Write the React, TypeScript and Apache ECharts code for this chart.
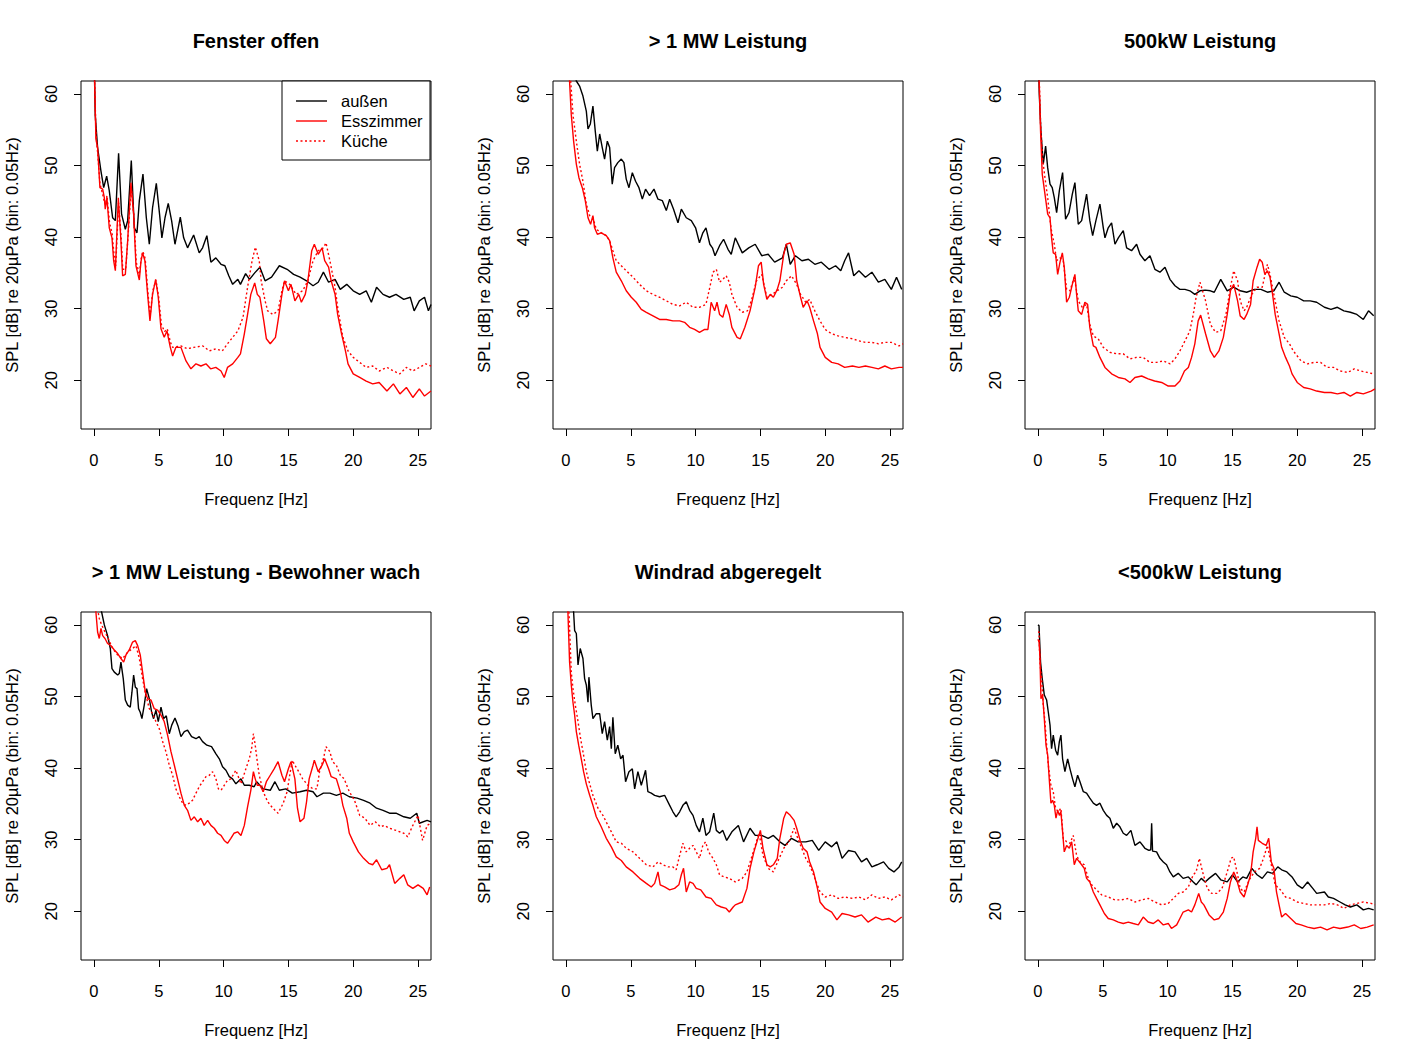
import { useEffect, useRef } from "react";
import * as echarts from "echarts";

const xTicks = [0, 5, 10, 15, 20, 25];
const yTicks = [20, 30, 40, 50, 60];
const panelTitles = [
  "Fenster offen",
  "> 1 MW Leistung",
  "500kW Leistung",
  "> 1 MW Leistung - Bewohner wach",
  "Windrad abgeregelt",
  "<500kW Leistung",
];
const seriesNames = ["außen", "Esszimmer", "Küche"];
const xAxisTitle = "Frequenz [Hz]";
const yAxisTitle = "SPL [dB] re 20µPa (bin: 0.05Hz)";

// Panel 1: Fenster offen
const p1Aussen = [[0,66],[0.1,57],[0.28,52.5],[0.54,49.2],[0.75,46.9],[0.98,48.5],[1.18,46.5],[1.44,42.7],[1.65,42.3],[1.9,51.7],[2.13,43.2],[2.42,41.1],[2.6,42.3],[2.88,50.7],[3.11,41.3],[3.32,40.6],[3.5,45.1],[3.78,48.8],[4.04,42.7],[4.27,39.0],[4.52,44.1],[4.81,47.5],[5.06,43.2],[5.24,39.9],[5.48,42.7],[5.73,44.7],[5.99,42.3],[6.25,39.0],[6.66,42.8],[6.92,39.9],[7.22,38.5],[7.69,40.3],[8.12,37.8],[8.38,38.5],[8.71,40.2],[9.02,36.5],[9.4,37.1],[9.8,36.2],[10.1,36.0],[10.4,34.6],[10.7,33.4],[11.1,34.1],[11.3,33.4],[11.7,34.9],[12.0,34.1],[12.4,35.0],[12.8,35.8],[13.2,33.9],[13.7,34.4],[14.3,36.0],[14.9,35.5],[15.4,34.8],[15.9,34.4],[16.4,33.9],[16.9,33.2],[17.3,33.7],[17.7,35.1],[18.1,33.7],[18.6,34.1],[19.0,32.7],[19.5,33.4],[20.0,32.5],[20.5,32.0],[21.0,32.5],[21.4,30.9],[21.8,33.0],[22.3,32.0],[22.8,31.6],[23.3,32.0],[23.9,31.3],[24.4,31.6],[24.7,29.7],[25.1,31.1],[25.5,31.6],[25.8,29.7],[26.0,30.6]];
const p1Ess = [[0,66],[0.15,53.7],[0.28,52.5],[0.46,46.9],[0.67,46.7],[0.8,45.5],[0.87,43.9],[1.0,45.5],[1.18,41.3],[1.39,39.9],[1.52,36.7],[1.65,35.3],[1.88,45.5],[2.08,39.5],[2.21,34.6],[2.42,34.8],[2.6,39.5],[2.85,47.6],[3.06,43.2],[3.24,36.0],[3.5,34.0],[3.62,36.5],[3.75,37.8],[3.93,36.7],[4.14,32.0],[4.32,28.3],[4.52,32.0],[4.76,34.1],[4.96,31.6],[5.17,27.2],[5.42,26.0],[5.63,26.9],[5.89,24.6],[6.07,23.4],[6.32,24.6],[6.71,24.6],[7.1,22.7],[7.48,21.6],[7.87,22.3],[8.25,22.0],[8.64,22.3],[9.0,21.6],[9.4,21.8],[9.8,21.3],[10.05,20.4],[10.3,21.8],[10.7,22.3],[11.1,23.2],[11.3,23.7],[11.6,26.5],[11.85,29.2],[12.1,32.0],[12.4,33.6],[12.6,32.0],[12.8,31.6],[13.1,28.3],[13.3,25.8],[13.6,25.1],[14.0,26.0],[14.2,28.3],[14.5,32.0],[14.7,33.9],[15.0,32.5],[15.2,33.4],[15.5,31.1],[15.8,32.0],[16.0,30.9],[16.3,32.0],[16.5,33.9],[16.8,38.1],[17.0,39.0],[17.3,37.6],[17.6,38.5],[17.8,36.7],[18.1,35.8],[18.3,33.9],[18.6,32.0],[18.8,29.2],[19.1,26.5],[19.4,24.1],[19.6,22.3],[20.0,20.9],[20.5,20.4],[21.0,19.9],[21.5,19.5],[22.0,19.7],[22.6,18.5],[23.1,19.5],[23.6,18.1],[24.1,19.0],[24.6,17.6],[25.1,18.8],[25.5,17.8],[26.0,18.5]];
const p1Kueche = [[0,66],[0.15,54.5],[0.3,51.5],[0.46,47.5],[0.67,46.0],[0.8,45.0],[0.9,44.5],[1.0,45.8],[1.2,42.0],[1.4,40.5],[1.55,37.5],[1.68,36.0],[1.9,44.8],[2.1,39.8],[2.22,35.5],[2.45,35.5],[2.62,39.8],[2.87,47.0],[3.08,43.0],[3.26,36.5],[3.5,34.8],[3.64,37.0],[3.77,38.0],[3.95,37.0],[4.15,32.5],[4.33,29.0],[4.54,32.5],[4.78,34.0],[4.98,31.8],[5.2,27.8],[5.45,26.8],[5.65,27.2],[5.9,25.3],[6.07,24.6],[6.7,24.8],[7.2,24.4],[7.7,24.6],[8.4,24.8],[8.9,24.1],[9.4,24.4],[9.9,24.1],[10.3,25.1],[10.7,26.0],[11.1,26.9],[11.5,28.8],[11.85,33.0],[12.2,36.7],[12.45,38.6],[12.75,36.7],[12.9,33.9],[13.2,31.1],[13.4,29.7],[13.8,29.2],[14.2,29.7],[14.5,32.5],[14.7,33.9],[15.1,33.4],[15.6,32.0],[16.1,32.5],[16.5,33.9],[16.9,36.7],[17.3,38.1],[17.7,38.5],[17.9,39.2],[18.2,36.7],[18.6,33.0],[18.8,30.2],[19.2,26.0],[19.6,24.1],[20.0,23.2],[20.5,22.5],[21.0,21.8],[21.5,22.0],[22.0,21.3],[22.6,21.8],[23.1,21.3],[23.6,20.9],[24.1,21.8],[24.6,21.3],[25.1,21.8],[25.6,22.3],[26.0,22.0]];

// Panel 2: > 1 MW Leistung
const p2Aussen = [[0,72],[0.5,64],[0.8,61.8],[1.05,61.1],[1.31,59.7],[1.57,57.6],[1.7,55.1],[1.88,55.8],[2.08,58.3],[2.26,54.8],[2.42,52.0],[2.6,54.4],[2.8,52.5],[2.98,50.9],[3.19,53.4],[3.37,52.5],[3.57,47.4],[3.75,49.7],[4.0,50.4],[4.27,50.9],[4.47,50.4],[4.65,48.1],[4.86,46.9],[5.12,49.0],[5.37,47.8],[5.63,46.9],[5.89,45.3],[6.14,46.7],[6.45,45.8],[6.79,46.7],[7.1,45.3],[7.43,45.1],[7.74,43.7],[8.0,45.3],[8.3,43.9],[8.64,42.0],[8.9,43.9],[9.28,42.7],[9.67,42.3],[10.0,41.3],[10.3,39.2],[10.56,40.6],[10.8,41.3],[11.1,39.0],[11.3,38.5],[11.5,37.4],[11.85,38.8],[12.16,39.7],[12.5,38.3],[12.75,37.6],[13.06,39.9],[13.6,37.8],[14.1,38.5],[14.6,39.0],[15.1,37.4],[15.6,37.6],[16.1,36.5],[16.7,37.1],[17.0,39.0],[17.3,36.2],[17.7,37.4],[18.2,36.7],[18.7,36.9],[19.2,36.2],[19.7,36.5],[20.3,35.5],[20.8,36.0],[21.2,35.3],[21.5,36.7],[21.8,37.8],[22.2,34.6],[22.6,35.3],[23.1,34.4],[23.6,35.1],[24.1,33.7],[24.6,34.1],[25.1,32.7],[25.5,34.4],[25.9,32.7]];
const p2Ess = [[0,75],[0.1,68],[0.41,57.1],[0.59,53.4],[0.8,50.2],[1.0,48.3],[1.26,46.9],[1.49,45.1],[1.7,42.7],[1.9,41.8],[2.08,43.0],[2.21,41.3],[2.42,40.4],[2.72,40.6],[3.11,40.2],[3.37,39.5],[3.62,37.1],[3.88,35.1],[4.27,33.9],[4.65,32.5],[5.04,31.6],[5.42,30.9],[5.81,29.9],[6.2,29.5],[6.71,29.0],[7.22,28.5],[7.74,28.5],[8.25,28.3],[8.77,28.3],[9.15,28.1],[9.54,27.4],[9.92,27.1],[10.3,26.7],[10.7,27.1],[10.95,27.1],[11.2,30.9],[11.47,29.7],[11.65,30.9],[11.85,29.2],[12.1,28.8],[12.36,30.6],[12.6,29.2],[12.8,27.4],[13.2,26.0],[13.45,25.8],[13.8,27.4],[14.2,29.7],[14.6,33.0],[14.85,36.0],[15.06,36.5],[15.25,33.4],[15.5,31.3],[15.76,32.0],[16.0,31.6],[16.3,32.7],[16.5,33.9],[16.8,37.6],[17.0,39.0],[17.3,39.2],[17.6,37.6],[17.8,33.9],[18.1,31.6],[18.3,30.2],[18.6,31.1],[18.8,30.2],[19.1,28.3],[19.4,26.5],[19.6,24.6],[20.0,23.2],[20.5,22.5],[21.0,22.3],[21.5,21.8],[22.1,22.0],[22.6,21.8],[23.1,22.0],[23.6,21.8],[24.1,21.6],[24.6,22.0],[25.1,21.6],[25.7,21.8],[26.0,21.8]];
const p2Kueche = [[0,75],[0.1,69],[0.54,57.1],[0.8,53.4],[1.05,50.2],[1.31,47.8],[1.57,44.6],[1.83,43.0],[2.08,42.7],[2.34,41.1],[2.72,40.6],[3.11,40.2],[3.37,39.5],[3.62,38.1],[3.88,36.7],[4.27,36.0],[4.65,35.3],[5.17,34.4],[5.68,33.4],[6.2,32.5],[6.71,32.0],[7.22,31.6],[7.74,31.1],[8.25,30.6],[8.77,30.4],[9.28,30.9],[9.8,30.2],[10.3,30.2],[10.8,30.6],[11.1,33.0],[11.34,35.1],[11.6,35.5],[11.85,33.7],[12.1,34.1],[12.36,34.6],[12.6,33.7],[12.8,32.0],[13.2,30.2],[13.6,29.5],[14.0,29.7],[14.3,31.1],[14.7,33.9],[15.1,34.8],[15.5,31.6],[15.9,32.0],[16.3,32.5],[16.7,33.0],[17.0,33.9],[17.4,34.6],[17.8,33.4],[18.1,32.0],[18.5,30.9],[18.8,31.3],[19.2,29.7],[19.6,28.3],[20.0,27.1],[20.5,26.5],[21.0,26.2],[21.5,26.0],[22.1,25.8],[22.6,25.5],[23.1,25.3],[23.6,25.3],[24.1,25.1],[24.6,25.3],[25.1,25.3],[25.7,24.8],[26.0,25.1]];

// Panel 3: 500kW Leistung
const p3Aussen = [[0,68],[0.1,60],[0.23,54.8],[0.41,50.2],[0.59,52.7],[0.75,49.7],[0.93,47.4],[1.1,46.9],[1.26,45.5],[1.44,43.4],[1.65,46.5],[1.9,49.0],[2.13,42.5],[2.39,43.4],[2.65,46.0],[2.85,47.6],[3.11,41.8],[3.37,42.3],[3.75,46.0],[4.0,42.3],[4.22,40.2],[4.47,42.3],[4.78,44.6],[5.04,41.3],[5.17,39.9],[5.42,41.3],[5.68,42.0],[5.94,39.0],[6.2,39.9],[6.58,40.9],[6.84,38.5],[7.22,38.1],[7.61,39.0],[7.87,37.6],[8.25,36.7],[8.64,37.4],[9.02,35.5],[9.41,35.1],[9.8,35.8],[10.18,34.1],[10.57,33.2],[10.95,32.7],[11.34,32.7],[11.72,32.5],[12.1,32.0],[12.5,32.5],[12.9,32.6],[13.3,32.5],[13.6,32.3],[14.1,34.1],[14.6,32.5],[15.1,33.0],[15.6,32.5],[16.1,32.3],[16.7,32.7],[17.2,32.7],[17.7,32.3],[18.2,32.5],[18.6,33.7],[19.0,32.3],[19.5,31.8],[20.0,31.6],[20.5,31.1],[21.0,31.1],[21.5,30.9],[22.1,30.2],[22.6,29.9],[23.1,30.2],[23.6,29.7],[24.1,29.5],[24.6,29.2],[25.1,28.5],[25.5,29.7],[25.9,29.0]];
const p3Ess = [[0,68],[0.2,54.8],[0.33,48.8],[0.54,46.0],[0.75,43.2],[0.93,42.7],[1.05,39.9],[1.18,37.8],[1.36,37.6],[1.52,34.8],[1.7,36.5],[1.88,37.8],[2.03,35.8],[2.21,30.9],[2.42,31.6],[2.65,33.4],[2.85,34.8],[2.98,32.0],[3.11,29.7],[3.37,29.2],[3.62,30.9],[3.83,30.6],[4.0,27.4],[4.27,24.8],[4.47,24.6],[4.78,23.2],[5.17,21.8],[5.68,20.9],[6.2,20.4],[6.71,20.2],[7.1,19.7],[7.48,20.4],[8.0,20.6],[8.5,20.2],[9.0,19.9],[9.54,19.7],[10.05,19.2],[10.57,19.2],[10.95,19.9],[11.3,21.3],[11.6,21.8],[11.85,23.2],[12.1,25.1],[12.36,28.3],[12.55,29.1],[12.93,26.5],[13.3,24.1],[13.6,23.2],[13.96,24.1],[14.3,26.0],[14.6,29.2],[14.85,32.5],[15.1,33.4],[15.4,31.1],[15.6,29.0],[15.9,28.5],[16.1,29.2],[16.4,30.6],[16.6,33.9],[16.9,35.8],[17.1,36.9],[17.3,36.5],[17.5,34.8],[17.7,35.3],[17.9,34.4],[18.1,32.0],[18.3,29.2],[18.6,26.5],[18.8,24.6],[19.1,23.2],[19.4,22.0],[19.6,20.9],[20.0,19.7],[20.5,19.0],[21.0,18.8],[21.5,18.5],[22.1,18.3],[22.6,18.3],[23.1,18.1],[23.6,18.3],[24.1,17.8],[24.6,18.3],[25.1,18.1],[25.7,18.5],[26.0,18.8]];
const p3Kueche = [[0,68],[0.2,56],[0.35,51],[0.54,48.3],[0.75,45.5],[1.0,41.3],[1.26,39.0],[1.44,36.7],[1.7,37.1],[1.95,36.7],[2.21,32.7],[2.47,32.5],[2.8,34.4],[3.11,31.1],[3.42,30.2],[3.75,30.6],[4.0,27.8],[4.27,26.2],[4.65,25.8],[5.04,24.6],[5.55,23.9],[6.07,23.7],[6.58,23.7],[7.1,23.0],[7.61,23.2],[8.12,23.2],[8.64,22.5],[9.15,22.5],[9.67,22.7],[10.2,22.3],[10.57,23.0],[10.95,24.1],[11.34,25.5],[11.72,26.9],[11.98,29.2],[12.2,31.6],[12.5,33.7],[12.93,31.1],[13.3,27.8],[13.7,26.7],[14.1,26.9],[14.5,29.2],[14.85,33.0],[15.1,35.3],[15.4,33.9],[15.6,31.1],[15.9,29.7],[16.1,30.2],[16.5,32.0],[16.9,33.0],[17.3,33.0],[17.7,36.2],[17.9,34.8],[18.2,32.0],[18.6,28.3],[19.0,26.0],[19.4,25.1],[19.7,24.1],[20.3,22.7],[20.8,22.3],[21.3,22.5],[21.8,22.5],[22.3,21.8],[22.8,21.8],[23.3,21.3],[23.9,21.1],[24.4,21.6],[24.9,21.3],[25.4,21.1],[25.9,20.9]];

// Panel 4: > 1 MW Leistung - Bewohner wach
const p4Aussen = [[0,68],[0.3,64],[0.59,61.8],[0.8,60.0],[1.05,58.5],[1.26,56.7],[1.39,53.9],[1.57,53.4],[1.83,53.0],[1.95,53.2],[2.08,54.8],[2.26,52.5],[2.42,49.5],[2.6,48.8],[2.8,48.5],[2.93,50.6],[3.06,53.0],[3.19,51.3],[3.32,51.1],[3.44,48.3],[3.57,47.8],[3.7,46.9],[3.88,48.8],[4.06,51.1],[4.27,49.7],[4.45,47.8],[4.6,46.9],[4.78,48.1],[4.96,46.5],[5.17,48.5],[5.37,46.9],[5.58,47.3],[5.81,44.8],[6.0,46.0],[6.25,47.0],[6.5,45.8],[6.71,44.4],[6.97,45.1],[7.22,45.3],[7.53,44.4],[7.87,44.1],[8.12,44.4],[8.38,43.7],[8.71,43.2],[9.07,43.0],[9.41,42.0],[9.67,41.3],[9.92,40.2],[10.18,39.7],[10.44,38.8],[10.69,38.5],[10.95,37.8],[11.34,38.5],[11.6,37.6],[11.98,37.6],[12.36,37.4],[12.55,38.1],[13.06,37.1],[13.6,36.9],[13.96,38.1],[14.3,36.9],[14.8,37.1],[15.3,36.5],[15.9,36.7],[16.4,36.9],[16.9,36.7],[17.2,36.0],[17.7,36.5],[18.2,36.5],[18.7,36.2],[19.2,36.5],[19.7,36.0],[20.3,35.8],[20.8,35.5],[21.3,35.1],[21.8,34.4],[22.3,34.1],[22.8,33.7],[23.3,33.7],[23.9,33.2],[24.4,33.0],[24.9,33.7],[25.1,32.3],[25.7,32.7],[26.0,32.5]];
const p4Ess = [[0,66],[0.15,61.8],[0.28,59.0],[0.41,58.1],[0.54,59.5],[0.67,58.5],[0.85,58.1],[1.05,57.4],[1.31,57.1],[1.57,56.5],[1.83,56.0],[2.08,55.3],[2.29,54.8],[2.47,55.8],[2.72,56.5],[2.98,57.6],[3.19,57.8],[3.37,57.1],[3.57,55.8],[3.75,53.4],[3.96,50.6],[4.14,49.7],[4.4,49.5],[4.65,48.3],[4.91,48.1],[5.17,47.4],[5.42,46.5],[5.68,44.6],[5.94,42.3],[6.2,40.4],[6.45,38.5],[6.71,36.5],[6.97,34.8],[7.22,34.1],[7.48,32.7],[7.74,33.2],[8.0,32.5],[8.25,33.0],[8.5,32.0],[8.77,32.7],[9.02,32.0],[9.28,31.6],[9.54,30.9],[9.8,30.6],[10.05,29.9],[10.3,29.5],[10.56,30.2],[10.8,30.9],[11.08,31.1],[11.34,30.6],[11.6,32.0],[11.85,34.6],[12.1,36.9],[12.3,39.5],[12.44,38.5],[12.6,37.6],[12.8,37.6],[13.06,36.7],[13.3,38.1],[13.6,39.0],[13.9,39.9],[14.2,40.9],[14.5,39.0],[14.7,38.1],[15.0,39.9],[15.2,40.9],[15.5,38.5],[15.7,34.4],[15.9,32.5],[16.2,33.0],[16.4,35.3],[16.6,38.5],[16.9,40.4],[17.0,41.1],[17.3,39.5],[17.6,40.4],[17.8,41.3],[18.1,39.9],[18.3,38.8],[18.7,38.5],[19.0,36.7],[19.2,34.8],[19.5,33.0],[19.7,30.9],[20.0,29.7],[20.4,28.3],[20.8,27.4],[21.2,26.7],[21.5,26.5],[21.8,27.2],[22.2,25.8],[22.6,26.0],[22.8,26.5],[23.2,23.9],[23.6,24.6],[23.9,25.1],[24.2,23.7],[24.6,23.2],[25.0,23.7],[25.4,23.2],[25.7,22.3],[25.9,23.4]];
const p4Kueche = [[0,66],[0.25,62.5],[0.41,60.9],[0.59,60.0],[0.85,59.0],[1.1,58.1],[1.44,56.7],[1.83,55.8],[2.21,55.3],[2.6,56.2],[2.98,56.7],[3.24,57.1],[3.5,55.3],[3.75,52.5],[4.0,50.2],[4.27,48.3],[4.52,47.6],[4.78,46.5],[5.04,45.5],[5.3,43.7],[5.55,42.3],[5.81,40.4],[6.07,39.0],[6.32,37.1],[6.58,36.0],[6.84,35.1],[7.1,34.8],[7.35,35.1],[7.6,35.5],[7.87,36.5],[8.12,37.4],[8.38,38.1],[8.64,38.8],[8.9,39.0],[9.15,39.5],[9.41,38.5],[9.6,37.1],[9.8,36.9],[10.05,37.6],[10.3,38.3],[10.56,38.5],[10.95,39.7],[11.34,37.8],[11.72,39.9],[11.98,41.3],[12.16,42.7],[12.3,44.8],[12.44,43.2],[12.6,40.9],[12.75,39.0],[13.06,36.7],[13.4,35.3],[13.8,34.4],[14.2,33.7],[14.6,35.1],[14.9,36.7],[15.1,39.0],[15.3,41.1],[15.5,40.4],[15.8,39.5],[16.1,38.5],[16.5,37.6],[16.9,37.1],[17.2,37.1],[17.4,39.5],[17.7,41.3],[17.9,43.0],[18.2,42.3],[18.4,40.9],[18.7,40.4],[19.0,39.0],[19.3,38.5],[19.7,36.7],[20.1,35.5],[20.5,33.4],[20.9,33.0],[21.3,32.0],[21.7,32.5],[22.1,31.8],[22.4,32.0],[22.8,31.6],[23.3,31.3],[23.9,30.9],[24.2,30.4],[24.6,32.0],[25.0,33.4],[25.35,29.9],[25.7,32.0],[26.0,32.3]];

// Panel 5: Windrad abgeregelt
const p5Aussen = [[0,70],[0.3,66],[0.59,61.8],[0.67,59.2],[0.8,58.8],[0.93,54.4],[1.1,56.7],[1.31,55.3],[1.44,52.5],[1.57,51.6],[1.7,49.2],[1.77,52.7],[1.95,48.8],[2.08,46.9],[2.34,47.6],[2.6,47.6],[2.8,44.8],[2.98,46.5],[3.19,43.9],[3.37,45.8],[3.5,42.7],[3.62,47.1],[3.8,42.0],[4.0,43.2],[4.22,41.3],[4.4,41.8],[4.6,38.1],[4.86,39.5],[5.12,39.9],[5.3,37.1],[5.55,39.5],[5.81,37.6],[6.0,38.8],[6.14,39.7],[6.32,36.7],[6.58,36.5],[6.84,36.2],[7.22,36.0],[7.61,36.2],[8.0,34.8],[8.25,33.9],[8.5,33.2],[8.77,33.9],[9.02,34.8],[9.28,35.3],[9.54,34.1],[9.8,33.4],[10.05,32.0],[10.3,31.1],[10.56,33.0],[10.8,30.6],[11.08,31.1],[11.4,33.7],[11.6,31.3],[11.85,30.9],[12.1,31.3],[12.4,29.9],[12.8,31.1],[13.3,32.0],[13.7,29.7],[14.2,31.6],[14.6,30.6],[15.1,30.6],[15.6,30.2],[16.0,30.6],[16.5,29.7],[16.9,29.2],[17.4,30.2],[17.9,29.7],[18.5,29.7],[19.0,29.9],[19.5,28.5],[20.0,29.7],[20.5,29.0],[20.9,29.7],[21.3,27.4],[21.8,28.5],[22.3,28.3],[22.8,26.9],[23.2,27.4],[23.6,26.2],[24.0,26.5],[24.5,26.9],[24.9,26.0],[25.3,25.5],[25.7,26.2],[25.9,26.9]];
const p5Ess = [[0,70],[0.15,61.8],[0.28,54.8],[0.41,51.6],[0.54,49.2],[0.67,47.4],[0.8,45.1],[0.98,43.2],[1.18,41.3],[1.36,39.5],[1.57,37.8],[1.83,36.2],[2.08,34.8],[2.34,33.2],[2.72,31.8],[3.11,30.2],[3.5,29.0],[3.88,27.6],[4.27,27.1],[4.65,26.2],[5.17,25.5],[5.68,24.6],[6.2,23.9],[6.58,23.4],[6.84,23.9],[7.1,25.5],[7.27,23.7],[7.61,23.4],[8.0,23.0],[8.38,23.2],[8.71,23.7],[8.9,25.1],[9.07,26.0],[9.28,22.7],[9.54,24.1],[9.8,23.9],[10.05,23.2],[10.4,23.0],[10.8,22.0],[11.2,21.8],[11.6,20.9],[11.98,20.6],[12.36,20.4],[12.6,19.9],[12.9,20.6],[13.06,20.9],[13.6,21.3],[13.96,23.2],[14.2,26.0],[14.5,28.3],[14.73,29.7],[15.0,31.3],[15.2,28.8],[15.5,26.5],[15.76,26.2],[16.0,26.5],[16.3,27.4],[16.5,30.2],[16.8,33.0],[17.0,33.9],[17.3,33.4],[17.6,32.7],[17.8,31.6],[18.1,29.7],[18.3,28.8],[18.6,28.3],[18.8,26.9],[19.1,25.5],[19.4,23.2],[19.6,21.3],[20.0,20.4],[20.5,19.9],[20.9,18.8],[21.3,19.7],[21.8,19.5],[22.3,19.2],[22.8,19.5],[23.3,18.5],[23.9,19.2],[24.4,18.8],[24.9,19.0],[25.4,18.5],[25.9,19.2]];
const p5Kueche = [[0,70],[0.25,61],[0.41,53.4],[0.54,51.1],[0.72,48.8],[0.93,46.5],[1.13,44.1],[1.36,41.8],[1.57,39.5],[1.83,37.8],[2.08,36.2],[2.47,34.4],[2.85,33.4],[3.24,32.0],[3.5,31.1],[3.88,29.7],[4.27,29.5],[4.65,28.8],[5.17,28.3],[5.68,27.4],[6.2,26.5],[6.71,26.2],[7.1,26.9],[7.48,26.5],[7.87,26.2],[8.25,26.2],[8.5,25.8],[8.77,27.8],[9.02,29.5],[9.28,28.3],[9.54,28.8],[9.8,29.2],[10.05,28.3],[10.3,27.4],[10.56,29.2],[10.77,29.7],[11.0,28.3],[11.34,27.4],[11.6,26.5],[11.85,25.1],[12.2,24.8],[12.6,24.6],[13.06,24.1],[13.6,24.6],[13.96,25.5],[14.3,27.4],[14.6,29.2],[14.9,30.9],[15.2,27.8],[15.6,26.0],[16.0,25.5],[16.4,27.2],[16.8,28.8],[17.2,29.7],[17.6,31.6],[17.8,30.6],[18.1,29.2],[18.5,27.4],[18.8,26.5],[19.2,24.6],[19.6,22.7],[20.0,22.0],[20.5,22.3],[21.0,21.8],[21.5,22.0],[22.1,21.8],[22.6,22.0],[23.1,21.6],[23.6,22.3],[24.1,21.8],[24.6,22.0],[25.1,21.6],[25.7,22.3],[26.0,22.0]];

// Panel 6: <500kW Leistung
const p6Aussen = [[0,60],[0.08,59.9],[0.2,54.8],[0.33,52.5],[0.49,50.2],[0.67,49.5],[0.8,47.8],[0.93,46.0],[1.05,42.7],[1.18,44.6],[1.36,42.5],[1.52,41.8],[1.65,43.7],[1.77,44.6],[1.9,41.3],[2.08,39.5],[2.29,41.3],[2.47,39.9],[2.67,38.5],[2.85,37.4],[3.06,39.0],[3.24,38.1],[3.5,36.7],[3.75,36.5],[4.0,35.8],[4.27,35.1],[4.52,34.8],[4.78,35.1],[5.04,34.1],[5.3,33.4],[5.55,33.0],[5.81,31.6],[6.07,32.3],[6.32,31.8],[6.58,30.9],[6.84,30.6],[7.17,31.3],[7.48,29.2],[7.87,29.7],[8.25,28.8],[8.56,28.5],[8.7,28.6],[8.77,32.3],[8.84,28.4],[9.15,28.3],[9.41,27.4],[9.67,26.9],[9.92,26.5],[10.18,25.5],[10.44,24.8],[10.82,25.3],[11.2,24.6],[11.6,24.8],[11.98,24.1],[12.2,23.7],[12.6,24.6],[12.9,24.1],[13.2,24.6],[13.7,25.3],[14.1,24.4],[14.6,24.1],[15.0,25.1],[15.4,24.1],[15.8,24.8],[16.1,24.6],[16.5,26.0],[16.9,25.1],[17.3,24.6],[17.7,25.5],[18.1,25.3],[18.5,26.2],[18.8,25.8],[19.2,25.5],[19.6,24.8],[20.0,23.7],[20.4,23.2],[20.8,24.1],[21.2,23.2],[21.5,22.5],[22.1,22.7],[22.4,22.0],[22.8,21.8],[23.3,21.3],[23.7,20.9],[24.1,20.6],[24.6,20.9],[25.1,20.2],[25.5,20.4],[25.9,20.2]];
const p6Ess = [[0,58],[0.08,57.6],[0.15,55.8],[0.23,49.7],[0.36,50.2],[0.49,46.9],[0.62,43.2],[0.75,41.8],[0.87,38.5],[1.0,35.1],[1.13,35.5],[1.26,34.8],[1.39,33.0],[1.52,34.1],[1.65,33.4],[1.77,33.9],[1.9,31.1],[2.03,28.3],[2.21,29.2],[2.42,28.8],[2.6,29.7],[2.8,26.5],[2.98,27.4],[3.19,26.9],[3.37,26.5],[3.57,26.0],[3.75,24.6],[4.0,24.1],[4.27,22.7],[4.52,21.8],[4.78,20.9],[5.12,19.7],[5.42,19.0],[5.81,18.8],[6.2,18.5],[6.58,18.3],[6.97,18.5],[7.35,18.3],[7.74,18.1],[8.12,19.2],[8.5,18.5],[8.9,18.3],[9.28,18.8],[9.67,18.1],[10.05,18.3],[10.3,17.6],[10.7,18.1],[10.95,19.0],[11.2,19.9],[11.6,20.2],[11.85,19.9],[12.1,20.9],[12.4,22.5],[12.6,21.3],[12.8,20.9],[13.2,19.5],[13.6,18.8],[13.96,19.0],[14.3,19.9],[14.6,21.8],[14.85,24.1],[15.1,25.5],[15.3,24.6],[15.6,22.7],[15.9,22.0],[16.1,23.2],[16.4,25.1],[16.6,28.3],[16.8,30.2],[16.9,31.8],[17.0,29.9],[17.3,29.5],[17.6,29.2],[17.8,30.2],[18.0,26.9],[18.2,26.0],[18.4,22.7],[18.6,20.9],[18.8,19.2],[19.1,19.7],[19.5,19.0],[19.9,18.3],[20.3,18.1],[20.8,17.8],[21.3,17.6],[21.8,17.8],[22.3,17.4],[22.8,17.8],[23.3,17.6],[23.9,17.8],[24.4,18.1],[24.9,17.6],[25.4,17.8],[25.9,18.1]];
const p6Kueche = [[0,59],[0.08,59.0],[0.15,54.8],[0.28,52.5],[0.41,48.8],[0.54,46.5],[0.67,43.2],[0.8,40.4],[1.0,37.6],[1.18,36.7],[1.36,34.4],[1.57,33.9],[1.77,34.4],[1.95,30.2],[2.21,29.7],[2.47,29.5],[2.72,30.6],[2.98,27.8],[3.24,26.9],[3.57,26.5],[3.88,24.6],[4.14,23.7],[4.52,23.0],[4.91,22.3],[5.42,22.0],[5.94,21.6],[6.45,21.6],[6.97,21.8],[7.48,21.3],[8.0,21.6],[8.5,21.8],[9.02,21.3],[9.54,20.9],[10.05,21.1],[10.44,21.8],[10.82,22.5],[11.2,22.7],[11.6,23.4],[11.98,25.1],[12.2,25.5],[12.45,27.4],[12.7,25.5],[13.06,23.2],[13.4,22.5],[13.8,22.5],[14.2,23.2],[14.6,25.5],[14.9,27.4],[15.1,27.6],[15.4,25.1],[15.6,23.2],[15.9,22.7],[16.3,24.4],[16.7,25.5],[17.1,26.0],[17.4,27.4],[17.7,29.2],[18.0,26.5],[18.3,23.7],[18.7,23.0],[19.1,22.0],[19.5,21.8],[20.0,21.3],[20.5,21.1],[21.0,20.9],[21.5,20.9],[22.1,20.9],[22.6,21.1],[23.1,20.9],[23.6,20.4],[24.1,20.9],[24.6,21.1],[25.1,21.3],[25.7,21.1],[26.0,20.9]];

const panelData = [
  [p1Aussen, p1Ess, p1Kueche],
  [p2Aussen, p2Ess, p2Kueche],
  [p3Aussen, p3Ess, p3Kueche],
  [p4Aussen, p4Ess, p4Kueche],
  [p5Aussen, p5Ess, p5Kueche],
  [p6Aussen, p6Ess, p6Kueche],
];

const FONT = "'Liberation Sans', Arial, Helvetica, sans-serif";
const W = 1417;
const H = 1062;
const gridLefts = [81, 553, 1025];
const gridTops = [81, 612];
const gridW = 350;
const gridH = 348;
const lineColors = ["#000000", "#ff0000", "#ff0000"];

export default function App() {
  const ref = useRef<HTMLDivElement>(null);
  useEffect(() => {
    if (!ref.current) return;
    const chart = echarts.init(ref.current, undefined, { renderer: "svg" });
    const grids: any[] = [];
    const xAxes: any[] = [];
    const yAxes: any[] = [];
    const series: any[] = [];
    const graphics: any[] = [];
    for (let i = 0; i < 6; i++) {
      const col = i % 3;
      const row = Math.floor(i / 3);
      const left = gridLefts[col];
      const top = gridTops[row];
      grids.push({
        left,
        top,
        width: gridW,
        height: gridH,
        show: true,
        borderColor: "#000",
        borderWidth: 1,
        backgroundColor: "transparent",
        containLabel: false,
      });
      xAxes.push({
        gridIndex: i,
        type: "value",
        min: -1,
        max: 26,
        axisLine: { show: false, onZero: false },
        axisTick: {
          show: true,
          inside: false,
          length: 7,
          customValues: xTicks,
          lineStyle: { color: "#000", width: 1 },
        },
        axisLabel: {
          customValues: xTicks,
          margin: 22,
          fontSize: 16.5,
          color: "#000",
          fontFamily: FONT,
        },
        splitLine: { show: false },
      });
      yAxes.push({
        gridIndex: i,
        type: "value",
        min: 13.2,
        max: 61.8,
        axisLine: { show: false, onZero: false },
        axisTick: {
          show: true,
          inside: false,
          length: 7,
          customValues: yTicks,
          lineStyle: { color: "#000", width: 1 },
        },
        axisLabel: {
          customValues: yTicks,
          rotate: 90,
          margin: 22,
          fontSize: 16.5,
          color: "#000",
          fontFamily: FONT,
        },
        splitLine: { show: false },
      });
      panelData[i].forEach((d, k) => {
        series.push({
          type: "line",
          name: seriesNames[k],
          xAxisIndex: i,
          yAxisIndex: i,
          data: d,
          showSymbol: false,
          symbol: "none",
          clip: true,
          lineStyle: {
            color: lineColors[k],
            width: 1.4,
            type: k === 2 ? [2, 2.5] : "solid",
          },
          itemStyle: { color: lineColors[k] },
          z: 2 + k,
        });
      });
      const cx = left + gridW / 2;
      const cy = top + gridH / 2;
      graphics.push({
        type: "text",
        x: cx,
        y: top - 40,
        style: {
          text: panelTitles[i],
          textAlign: "center",
          textVerticalAlign: "middle",
          align: "center",
          verticalAlign: "middle",
          fontSize: 20,
          fontWeight: "bold",
          fontFamily: FONT,
          fill: "#000",
        },
      });
      graphics.push({
        type: "text",
        x: cx,
        y: top + gridH + 70,
        style: {
          text: xAxisTitle,
          textAlign: "center",
          textVerticalAlign: "middle",
          align: "center",
          verticalAlign: "middle",
          fontSize: 16.5,
          fontFamily: FONT,
          fill: "#000",
        },
      });
      graphics.push({
        type: "text",
        x: left - 69,
        y: cy,
        rotation: Math.PI / 2,
        style: {
          text: yAxisTitle,
          textAlign: "center",
          textVerticalAlign: "middle",
          align: "center",
          verticalAlign: "middle",
          fontSize: 16.5,
          fontFamily: FONT,
          fill: "#000",
        },
      });
    }
    // Legend in panel 1 (top-right corner)
    const lgX = 282;
    const lgY = 81;
    graphics.push({
      type: "rect",
      shape: { x: lgX, y: lgY, width: 148, height: 79 },
      style: { fill: "#fff", stroke: "#000", lineWidth: 1 },
      z: 100,
    });
    seriesNames.forEach((name, k) => {
      const y = lgY + 20 + k * 20;
      graphics.push({
        type: "line",
        shape: { x1: lgX + 14, y1: y, x2: lgX + 45, y2: y },
        style: {
          stroke: lineColors[k],
          lineWidth: 1.4,
          lineDash: k === 2 ? [2, 2.5] : null,
        },
        z: 101,
      });
      graphics.push({
        type: "text",
        x: lgX + 59,
        y,
        style: {
          text: name,
          textAlign: "left",
          textVerticalAlign: "middle",
          align: "left",
          verticalAlign: "middle",
          fontSize: 16.5,
          fontFamily: FONT,
          fill: "#000",
        },
        z: 101,
      });
    });

    chart.setOption({
      animation: false,
      backgroundColor: "#fff",
      grid: grids,
      xAxis: xAxes,
      yAxis: yAxes,
      series,
      graphic: graphics,
    });
    return () => chart.dispose();
  }, []);
  return (
    <div
      ref={ref}
      style={{ position: "fixed", left: 0, top: 0, width: W, height: H }}
    />
  );
}
